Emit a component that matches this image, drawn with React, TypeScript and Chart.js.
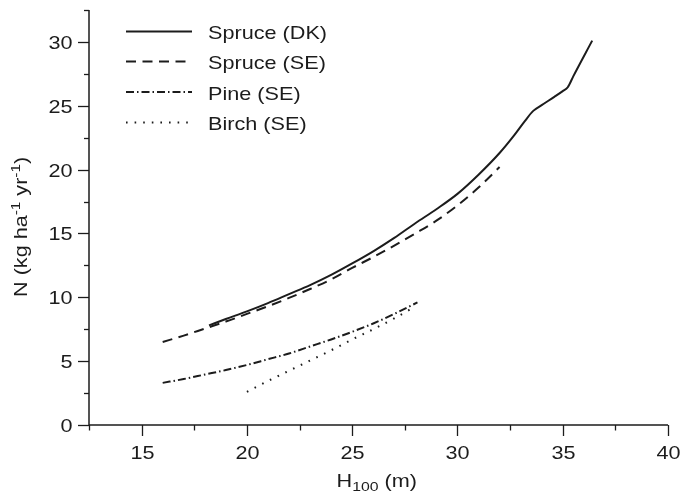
import React, { useEffect, useRef } from "react";
import { Chart, registerables } from "chart.js";

Chart.register(...registerables);

// ---- Data ----
const DK_X = [18.2, 19, 20, 21, 22, 23, 24, 25, 26, 27, 28, 29, 30, 31, 32, 32.7, 33.2, 33.6, 34.0, 34.6, 35.0, 35.24, 35.5, 36.4];
const DK_Y = [7.8, 8.3, 8.9, 9.55, 10.25, 10.95, 11.75, 12.65, 13.6, 14.65, 15.8, 16.9, 18.1, 19.6, 21.3, 22.7, 23.8, 24.6, 25.05, 25.7, 26.15, 26.45, 27.3, 30.1];

const SE_SPRUCE_X = [16, 17, 18, 19, 20, 21, 22, 23, 24, 25, 26, 27, 28, 29, 30, 31, 32];
const SE_SPRUCE_Y = [6.5, 7.0, 7.55, 8.1, 8.7, 9.3, 9.95, 10.65, 11.4, 12.3, 13.15, 14.05, 15.0, 16.0, 17.2, 18.6, 20.2];

const PINE_X = [16, 17, 18, 19, 20, 21, 22, 23, 24, 25, 26, 27, 28.1];
const PINE_Y = [3.3, 3.6, 3.95, 4.3, 4.7, 5.15, 5.6, 6.15, 6.7, 7.3, 7.95, 8.7, 9.6];

const BIRCH_X = [20, 21, 22, 23, 24, 25, 26, 27, 27.8];
const BIRCH_Y = [2.6, 3.45, 4.25, 5.05, 5.85, 6.7, 7.5, 8.35, 9.1];

const SERIES_LABELS = ["Spruce (DK)", "Spruce (SE)", "Pine (SE)", "Birch (SE)"];

const X_TICKS = [12.5, 15, 17.5, 20, 22.5, 25, 27.5, 30, 32.5, 35, 37.5, 40];
const Y_TICKS = [0, 2.5, 5, 7.5, 10, 12.5, 15, 17.5, 20, 22.5, 25, 27.5, 30, 32.5];

const INK = "#1c1c1c";
const FONT = '"Liberation Sans", Arial, Helvetica, sans-serif';
const SX = 1.17;

const DASHES: number[][] = [[], [10, 6.5], [8, 3, 1.5, 3], [1.6, 7]];

function pts(xs: number[], ys: number[]) {
  return xs.map((x, i) => ({ x, y: ys[i] }));
}

function drawText(ctx: CanvasRenderingContext2D, text: string, x: number, y: number, size: number, align: "left" | "right" | "center" = "left") {
  ctx.save();
  ctx.font = `${size}px ${FONT}`;
  const w = ctx.measureText(text).width * SX;
  const x0 = align === "right" ? x - w : align === "center" ? x - w / 2 : x;
  ctx.translate(x0, y);
  ctx.scale(SX, 1);
  ctx.textAlign = "left";
  ctx.textBaseline = "alphabetic";
  ctx.fillStyle = INK;
  ctx.fillText(text, 0, 0);
  ctx.restore();
  return w;
}

const decorPlugin = {
  id: "decor",
  afterDraw(chart: any) {
    const ctx: CanvasRenderingContext2D = chart.ctx;
    const xs = chart.scales.x;
    const ys = chart.scales.y;
    const left = xs.getPixelForValue(12.5);
    const right = xs.getPixelForValue(40);
    const bottom = ys.getPixelForValue(0);
    const top = ys.getPixelForValue(32.5);

    ctx.save();
    ctx.strokeStyle = INK;
    ctx.lineWidth = 1.5;
    ctx.setLineDash([]);
    ctx.beginPath();
    ctx.moveTo(left, top);
    ctx.lineTo(left, bottom);
    ctx.lineTo(right, bottom);
    ctx.stroke();

    // x ticks
    for (const v of X_TICKS) {
      const px = Math.round(xs.getPixelForValue(v)) + 0.5;
      const major = v % 5 === 0;
      ctx.beginPath();
      ctx.lineWidth = 1.3;
      ctx.moveTo(px, bottom);
      ctx.lineTo(px, bottom + (major ? 11 : 5.5));
      ctx.stroke();
      if (major) drawText(ctx, String(v), px, bottom + 33.5, 18.5, "center");
    }
    // y ticks
    for (const v of Y_TICKS) {
      const py = Math.round(ys.getPixelForValue(v)) + 0.5;
      const major = v % 5 === 0;
      ctx.beginPath();
      ctx.lineWidth = 1.3;
      ctx.moveTo(left, py);
      ctx.lineTo(left - (major ? 11 : 5), py);
      ctx.stroke();
      if (major) drawText(ctx, String(v), left - 16.5, py + 6.6, 18.5, "right");
    }

    // x title: H_100 (m)
    let tx = 336.5;
    const tb = 486.5;
    tx += drawText(ctx, "H", tx, tb, 18.5);
    tx += drawText(ctx, "100", tx, tb + 4, 13.5);
    drawText(ctx, " (m)", tx, tb, 18.5);

    // y title: N (kg ha^-1 yr^-1)
    ctx.save();
    ctx.translate(26.5, 297);
    ctx.rotate(-Math.PI / 2);
    let ty = 0;
    ty += drawText(ctx, "N (kg ha", ty, 0, 18.5);
    ty += drawText(ctx, "-1", ty, -7, 13);
    ty += drawText(ctx, " yr", ty, 0, 18.5);
    ty += drawText(ctx, "-1", ty, -7, 13);
    drawText(ctx, ")", ty, 0, 18.5);
    ctx.restore();

    // legend
    const rows = [31.5, 61.5, 92, 122.5];
    SERIES_LABELS.forEach((lab, i) => {
      const y = rows[i];
      ctx.save();
      ctx.strokeStyle = INK;
      ctx.lineWidth = 2;
      ctx.setLineDash(DASHES[i]);
      ctx.beginPath();
      ctx.moveTo(126, y);
      ctx.lineTo(192, y);
      ctx.stroke();
      ctx.restore();
      drawText(ctx, lab, 208, y + 7.5, 18.5);
    });
    ctx.restore();
  },
};

export default function App() {
  const ref = useRef<HTMLCanvasElement | null>(null);
  useEffect(() => {
    document.body.style.margin = "0";
    const canvas = ref.current!;
    const mk = (i: number, xsArr: number[], ysArr: number[]) => ({
      label: SERIES_LABELS[i],
      data: pts(xsArr, ysArr),
      borderColor: INK,
      backgroundColor: INK,
      borderWidth: 2,
      borderDash: DASHES[i],
      pointRadius: 0,
      fill: false,
      cubicInterpolationMode: "monotone" as const,
    });
    const chart = new Chart(canvas, {
      type: "line",
      data: {
        datasets: [
          mk(0, DK_X, DK_Y),
          mk(1, SE_SPRUCE_X, SE_SPRUCE_Y),
          mk(2, PINE_X, PINE_Y),
          mk(3, BIRCH_X, BIRCH_Y),
        ],
      },
      options: {
        responsive: false,
        animation: false,
        devicePixelRatio: 1,
        layout: { padding: { left: 89, top: 10, right: 14, bottom: 69 } },
        plugins: { legend: { display: false }, tooltip: { enabled: false } },
        scales: {
          x: { type: "linear", min: 12.5, max: 40, display: false },
          y: { type: "linear", min: 0, max: 32.5, display: false },
        },
      },
      plugins: [decorPlugin],
    });
    return () => chart.destroy();
  }, []);
  return (
    <div style={{ width: 682, height: 494, background: "#fff" }}>
      <canvas ref={ref} width={682} height={494} style={{ display: "block" }} />
    </div>
  );
}
